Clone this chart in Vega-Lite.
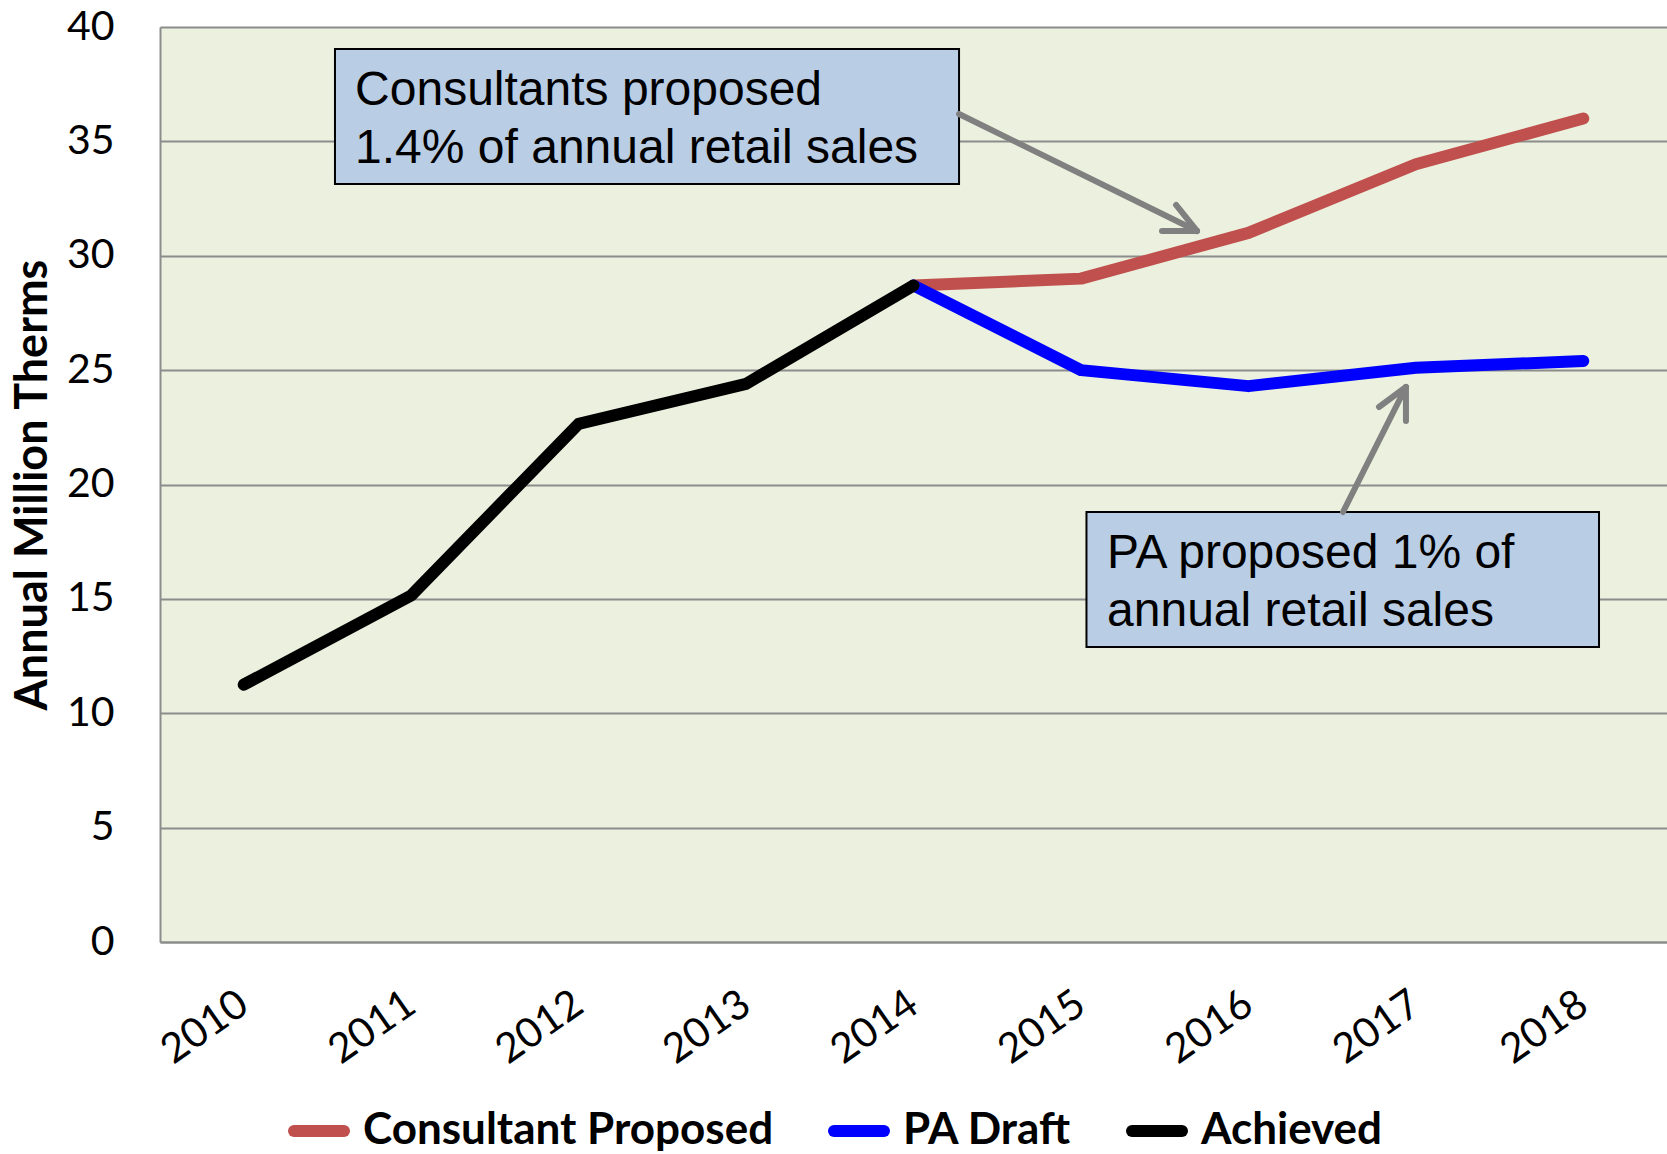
{
  "$schema": "https://vega.github.io/schema/vega-lite/v6.json",
  "width": 1507,
  "height": 915,
  "autosize": {"type": "none"},
  "padding": {"left": 160, "top": 27, "right": 0, "bottom": 212},
  "background": "white",
  "config": {
    "view": {"fill": "#EBF1DE", "stroke": null},
    "font": "Lato"
  },
  "datasets": {
    "series": [
      {"year": 2014, "value": 28.7, "series": "Consultant Proposed"},
      {"year": 2015, "value": 29.0, "series": "Consultant Proposed"},
      {"year": 2016, "value": 31.0, "series": "Consultant Proposed"},
      {"year": 2017, "value": 34.0, "series": "Consultant Proposed"},
      {"year": 2018, "value": 36.0, "series": "Consultant Proposed"},
      {"year": 2014, "value": 28.7, "series": "PA Draft"},
      {"year": 2015, "value": 25.0, "series": "PA Draft"},
      {"year": 2016, "value": 24.3, "series": "PA Draft"},
      {"year": 2017, "value": 25.1, "series": "PA Draft"},
      {"year": 2018, "value": 25.4, "series": "PA Draft"},
      {"year": 2010, "value": 11.25, "series": "Achieved"},
      {"year": 2011, "value": 15.15, "series": "Achieved"},
      {"year": 2012, "value": 22.65, "series": "Achieved"},
      {"year": 2013, "value": 24.4, "series": "Achieved"},
      {"year": 2014, "value": 28.7, "series": "Achieved"}
    ],
    "boxes": [
      {"x": 2010.545, "x2": 2014.272, "y": 39.04, "y2": 33.14},
      {"x": 2015.033, "x2": 2018.094, "y": 18.80, "y2": 12.90}
    ],
    "arrows": [
      {"x": 2014.272, "y": 36.197, "x2": 2015.693, "y2": 31.082},
      {"x": 2015.693, "y": 31.082, "x2": 2015.568, "y2": 32.219},
      {"x": 2015.693, "y": 31.082, "x2": 2015.484, "y2": 31.082},
      {"x": 2016.565, "y": 18.798, "x2": 2016.941, "y2": 24.262},
      {"x": 2016.941, "y": 24.262, "x2": 2016.780, "y2": 23.388},
      {"x": 2016.941, "y": 24.262, "x2": 2016.941, "y2": 22.776}
    ],
    "notes": [
      {"x": 2010.665, "y": 36.59, "text": "Consultants proposed"},
      {"x": 2010.665, "y": 34.068, "text": "1.4% of annual retail sales"},
      {"x": 2015.156, "y": 16.35, "text": "PA proposed 1% of"},
      {"x": 2015.156, "y": 13.814, "text": "annual retail sales"}
    ]
  },
  "encoding": {},
  "layer": [
    {
      "data": {"name": "series"},
      "mark": {"type": "line", "strokeWidth": 12, "strokeCap": "round", "strokeJoin": "round"},
      "encoding": {
        "x": {
          "field": "year", "type": "quantitative",
          "scale": {"domain": [2009.5, 2018.5], "nice": false, "zero": false},
          "axis": {
            "title": null,
            "values": [2010, 2011, 2012, 2013, 2014, 2015, 2016, 2017, 2018],
            "format": "d",
            "grid": false,
            "ticks": false,
            "domain": true,
            "domainColor": "#8C8C8C",
            "domainWidth": 2,
            "labelAngle": -35,
            "labelAlign": "right",
            "labelBaseline": "middle",
            "labelPadding": 58,
            "labelFont": "Lato",
            "labelFontSize": 41,
            "labelColor": "#000000",
            "labelFlush": false,
            "labelOverlap": false
          }
        },
        "y": {
          "field": "value", "type": "quantitative",
          "scale": {"domain": [0, 40], "nice": false},
          "axis": {
            "title": "Annual Million Therms",
            "titleFont": "Lato",
            "titleFontSize": 45,
            "titleFontWeight": "bold",
            "titleColor": "#000000",
            "titlePadding": 11,
            "values": [0, 5, 10, 15, 20, 25, 30, 35, 40],
            "grid": true,
            "gridColor": "#8C8C8C",
            "gridWidth": 2,
            "ticks": false,
            "domain": true,
            "domainColor": "#8C8C8C",
            "domainWidth": 2,
            "labelPadding": 46,
            "labelFont": "Lato",
            "labelFontSize": 41,
            "labelColor": "#000000",
            "labelFlush": false,
            "labelOverlap": false
          }
        },
        "color": {
          "field": "series", "type": "nominal",
          "scale": {
            "domain": ["Consultant Proposed", "PA Draft", "Achieved"],
            "range": ["#C0504D", "#0000FF", "#000000"]
          },
          "legend": {
            "title": null,
            "orient": "none",
            "direction": "horizontal",
            "legendX": 128,
            "legendY": 1073,
            "symbolType": "stroke",
            "symbolSize": 2500,
            "symbolStrokeWidth": 12,
            "labelFont": "Lato",
            "labelFontSize": 44,
            "labelFontWeight": "bold",
            "labelColor": "#000000",
            "labelOffset": 13,
            "columnPadding": 36,
            "padding": 0,
            "labelLimit": 0,
            "encode": {"symbols": {"update": {"strokeCap": {"value": "round"}}}}
          }
        }
      }
    },
    {
      "data": {"name": "boxes"},
      "mark": {"type": "rect", "fill": "#B9CDE5", "stroke": "#000000", "strokeWidth": 2},
      "encoding": {
        "x": {"field": "x", "type": "quantitative"},
        "x2": {"field": "x2"},
        "y": {"field": "y", "type": "quantitative"},
        "y2": {"field": "y2"}
      }
    },
    {
      "data": {"name": "arrows"},
      "mark": {"type": "rule", "stroke": "#808080", "strokeWidth": 6, "strokeCap": "round"},
      "encoding": {
        "x": {"field": "x", "type": "quantitative"},
        "x2": {"field": "x2"},
        "y": {"field": "y", "type": "quantitative"},
        "y2": {"field": "y2"}
      }
    },
    {
      "data": {"name": "notes"},
      "mark": {"type": "text", "align": "left", "baseline": "alphabetic", "font": "Liberation Sans", "fontSize": 48, "color": "#000000"},
      "encoding": {
        "x": {"field": "x", "type": "quantitative"},
        "y": {"field": "y", "type": "quantitative"},
        "text": {"field": "text"}
      }
    }
  ]
}
